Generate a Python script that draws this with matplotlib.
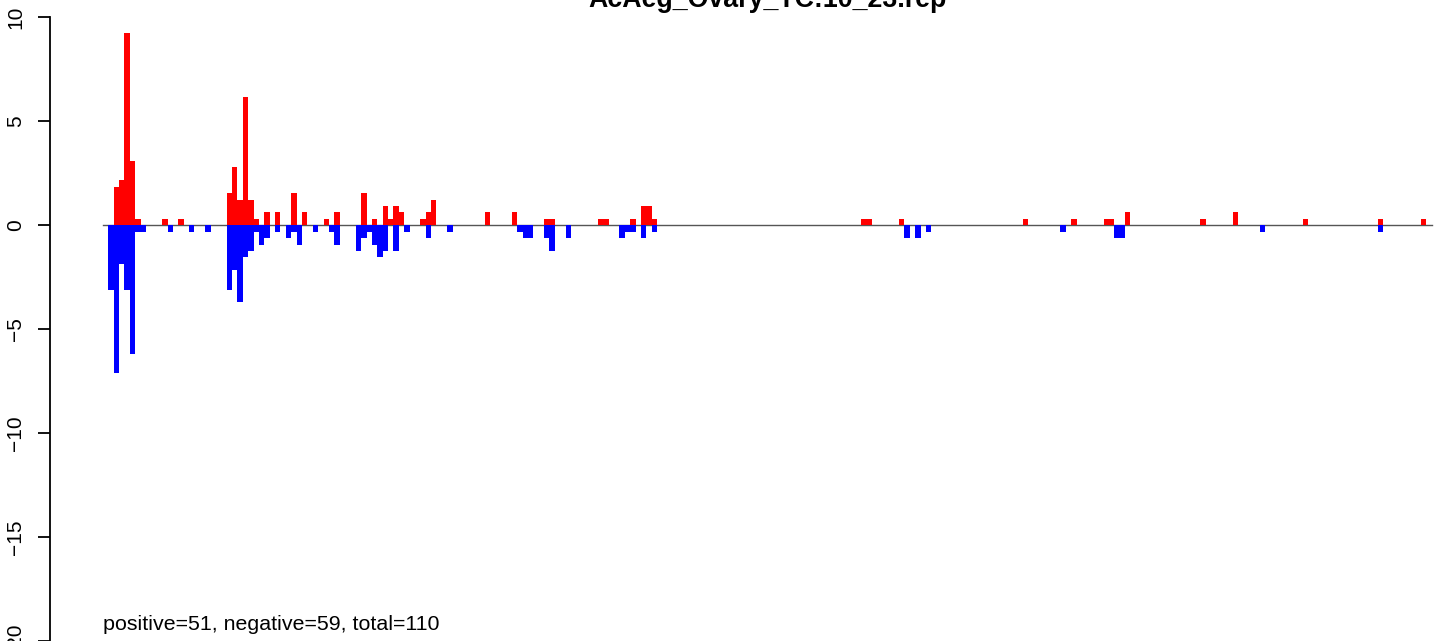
import matplotlib
matplotlib.use("Agg")
import matplotlib.pyplot as plt
from matplotlib.transforms import blended_transform_factory

plt.rcParams['font.family'] = ['Liberation Sans', 'DejaVu Sans']

title = "AcAeg_Ovary_TC:10_23.rep"
summary = "positive=51, negative=59, total=110"
n_pos = 247

# positive strand (red): bar index along the sequence and height
pos_idx = [2, 3, 4, 5, 6, 11, 14, 23, 24, 25, 26, 27, 28, 30, 32, 35, 37, 41, 43,
           48, 50, 52, 53, 54, 55, 59, 60, 61, 71, 76, 82, 83, 92, 93, 98, 100, 101,
           102, 141, 142, 148, 171, 180, 186, 187, 190, 204, 210, 223, 237, 245]
pos_val = [1.85, 2.16, 9.26, 3.09, 0.31, 0.31, 0.31, 1.54, 2.78, 1.23, 6.17, 1.23,
           0.31, 0.62, 0.62, 1.54, 0.62, 0.31, 0.62, 1.54, 0.31, 0.93, 0.31, 0.93,
           0.62, 0.31, 0.62, 1.23, 0.62, 0.62, 0.31, 0.31, 0.31, 0.31, 0.31, 0.93,
           0.93, 0.31, 0.31, 0.31, 0.31, 0.31, 0.31, 0.31, 0.31, 0.62, 0.31, 0.62,
           0.31, 0.31, 0.31]

# negative strand (blue)
neg_idx = [1, 2, 3, 4, 5, 6, 7, 12, 16, 19, 23, 24, 25, 26, 27, 28, 29, 30, 32, 34,
           35, 36, 39, 42, 43, 47, 48, 49, 50, 51, 52, 54, 56, 60, 64, 77, 78, 79, 82,
           83, 86, 96, 97, 98, 100, 102, 149, 151, 153, 178, 188, 189, 215, 237]
neg_val = [3.09, 7.10, 1.85, 3.09, 6.17, 0.31, 0.31, 0.31, 0.31, 0.31, 3.09, 2.16,
           3.70, 1.54, 1.23, 0.31, 0.93, 0.62, 0.31, 0.62, 0.31, 0.93, 0.31, 0.31,
           0.93, 1.23, 0.62, 0.31, 0.93, 1.54, 1.23, 1.23, 0.31, 0.62, 0.31, 0.31,
           0.62, 0.62, 0.62, 1.23, 0.62, 0.62, 0.31, 0.31, 0.62, 0.31, 0.62, 0.62,
           0.31, 0.31, 0.62, 0.62, 0.31, 0.31]

y_ticks = [-20, -15, -10, -5, 0, 5, 10]

fig = plt.figure(figsize=(14.44, 6.41), dpi=100)
# plot region runs past the picture edges (cropped R figure)
ax = fig.add_axes([0.03449, -0.03947, 0.99377, 1.05142])

ax.plot([0, n_pos], [0, 0], color='#555555', lw=1.0, zorder=1)
ax.bar(pos_idx, pos_val, width=1, align='edge', color='#FF0000', linewidth=0, zorder=2)
ax.bar(neg_idx, [-v for v in neg_val], width=1, align='edge', color='#0000FF',
       linewidth=0, zorder=2)

ax.set_xlim(-0.04 * n_pos, 1.04 * n_pos)
ax.set_ylim(-21.2, 11.2)

for s in ['top', 'right', 'bottom']:
    ax.spines[s].set_visible(False)
ax.spines['left'].set_bounds(-20, 10)
ax.spines['left'].set_linewidth(1.3)
ax.set_xticks([])
ax.set_yticks(y_ticks)
ax.tick_params(axis='y', direction='out', length=8.9, width=1.3, pad=9, labelsize=15)
for lab in ax.get_yticklabels():
    lab.set_rotation(90)
    lab.set_va('center')

ax.text(0, -19.2, summary, ha='left', va='center', fontsize=15.4)

tr = blended_transform_factory(ax.transAxes, fig.transFigure)
ax.text(0.5, 1 - 7 / 641, title, transform=tr, ha='center', va='baseline',
        fontsize=19.3, fontweight='bold')

fig.savefig("out.png", dpi=100)
